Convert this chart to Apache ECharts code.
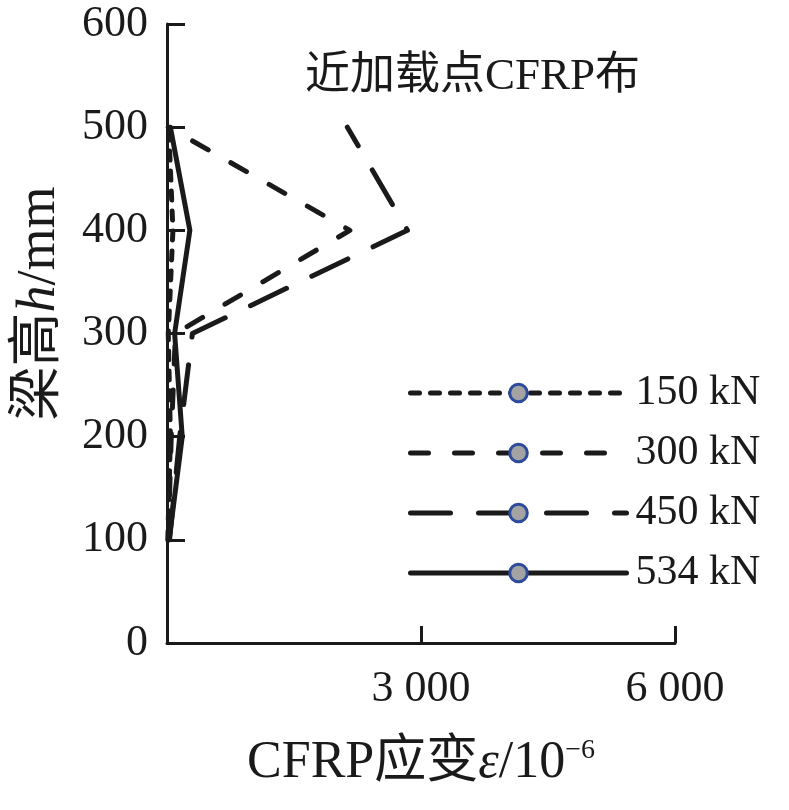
<!DOCTYPE html>
<html><head><meta charset="utf-8">
<script src="https://cdn.jsdelivr.net/npm/echarts@6/dist/echarts.min.js"></script>
<style>html,body{margin:0;padding:0;background:#fff}#c{width:789px;height:810px}</style>
</head><body><div id="c"></div>
<script>
var heights = [100, 200, 300, 400, 500];
var seriesNames = ['150 kN', '300 kN', '450 kN', '534 kN'];
var s150 = [10, 40, 15, 70, 20];
var s300 = [15, 50, 100, 2160, 15];
var s450 = [30, 150, 300, 2840, 2130];
var s534 = [25, 180, 90, 270, 40];
var xTicks = [0, 3000, 6000];
var yTicks = [0, 100, 200, 300, 400, 500, 600];

var FONT = '"Liberation Serif","Noto Sans CJK SC",serif';
var INK = '#1a1a1a';
function pts(vals){ return vals.map(function(v,i){ return [v, heights[i]]; }); }
var dashes = [[9, 11], [18, 26], [40, 28], 'solid'];
var allVals = [s150, s300, s450, s534];

var chart = echarts.init(document.getElementById('c'));
chart.setOption({
  animation: false,
  backgroundColor: '#fff',
  grid: {left: 167, right: 114, top: 24, bottom: 167, containLabel: false, outerBoundsMode: 'none'},
  xAxis: {
    type: 'value', min: 0, max: 6000, interval: 3000,
    axisLine: {lineStyle: {color: INK, width: 3}},
    axisTick: {inside: true, length: 17, lineStyle: {color: INK, width: 3}},
    splitLine: {show: false},
    axisLabel: {
      color: INK, fontFamily: FONT, fontSize: 44, margin: 24,
      formatter: function(v){ if (v === 0) return ''; var s = String(v); return s.slice(0, s.length-3) + ' ' + s.slice(-3); }
    },
    name: 'CFRP应变{i|ε}/10{sup|−6}',
    nameLocation: 'middle', nameGap: 94,
    nameTextStyle: {
      color: INK, fontFamily: FONT, fontSize: 52,
      rich: {
        i: {fontFamily: FONT, fontStyle: 'italic', fontSize: 52, color: INK},
        sup: {fontFamily: FONT, fontSize: 28, color: INK, verticalAlign: 'top', padding: [0,0,24,0]}
      }
    }
  },
  yAxis: {
    type: 'value', min: 0, max: 600, interval: 100,
    axisLine: {lineStyle: {color: INK, width: 3}},
    axisTick: {inside: true, length: 18, lineStyle: {color: INK, width: 3}},
    splitLine: {show: false},
    axisLabel: {color: INK, fontFamily: FONT, fontSize: 44, margin: 19},
    name: '梁高{i|h}/mm',
    nameLocation: 'middle', nameGap: 100, nameRotate: 90,
    nameTextStyle: {
      color: INK, fontFamily: FONT, fontSize: 54, padding: [0, 0, 0, 60],
      rich: {i: {fontFamily: FONT, fontStyle: 'italic', fontSize: 54, color: INK}}
    }
  },
  legend: {
    orient: 'vertical', left: 403, top: 367,
    itemWidth: 216, itemHeight: 22, itemGap: 18,
    data: seriesNames,
    textStyle: {color: INK, fontFamily: FONT, fontSize: 42, lineHeight: 42, padding: [0, 0, 0, 4]},
    itemStyle: {color: '#a3a3a3', borderColor: '#2d4b9c', borderWidth: 3},
    lineStyle: {width: 5, cap: 'round'}
  },
  graphic: [{
    type: 'text', left: 305, top: 55,
    style: {text: '近加载点CFRP布', fill: INK, font: '45px ' + FONT}
  }],
  series: seriesNames.map(function(n, k){
    return {
      name: n, type: 'line', data: pts(allVals[k]),
      symbol: 'circle', symbolSize: 14, showSymbol: false,
      itemStyle: {color: '#a3a3a3', borderColor: '#2d4b9c', borderWidth: 3},
      lineStyle: {color: INK, width: 5, type: dashes[k], cap: 'round', join: 'round'},
      z: 3
    };
  })
});
</script></body></html>
